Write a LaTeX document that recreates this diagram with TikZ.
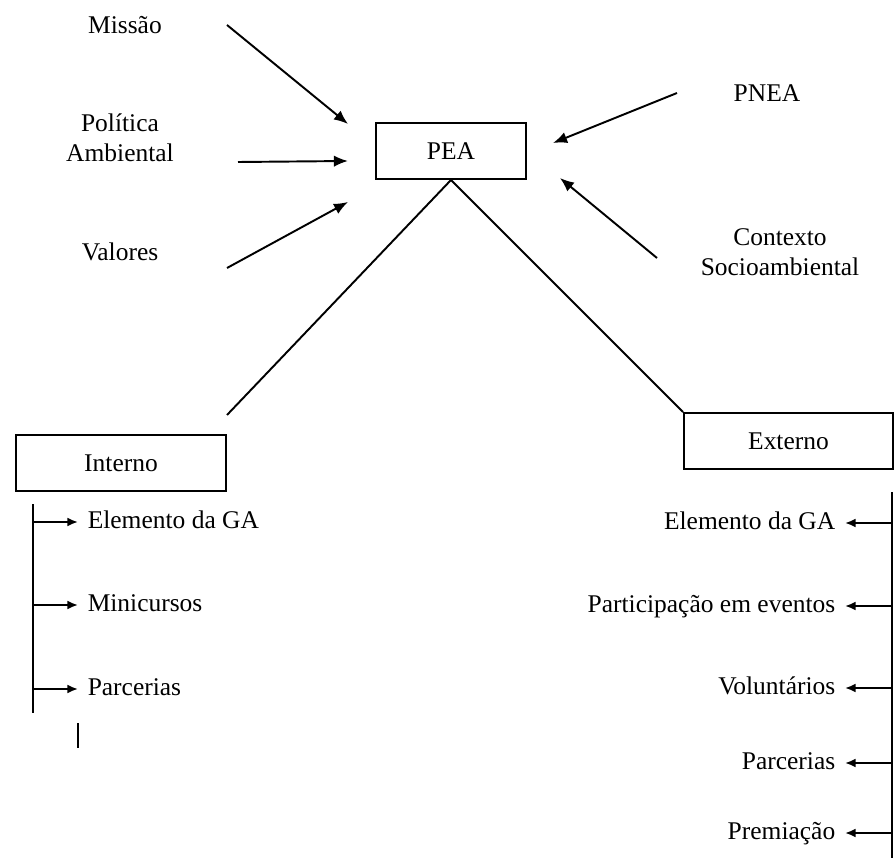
\documentclass[tikz,border=0pt]{standalone}
\usepackage{fontspec}
\setmainfont{Liberation Serif}
\usepackage{tikz}
\usetikzlibrary{arrows.meta}
\tikzset{every picture/.style={line width=1.1pt}}
\tikzset{caixa/.style={draw, rectangle, minimum height=1.12cm}}
\tikzset{rotulo/.style={align=center, inner sep=1pt, font=\fontsize{14.5}{17}\selectfont}}
\tikzset{item/.style={rotulo, inner xsep=5pt, text height=10pt, text depth=3pt}}
\tikzset{seta/.style={-{Latex[length=8pt,width=6.5pt]}}}
\tikzset{setinha/.style={-{Latex[length=6pt,width=5pt]}}}

\begin{document}
\begin{tikzpicture}[x=0.02cm, y=-0.02cm]
\useasboundingbox (0,0) rectangle (896,858);
% caixas
\node[caixa, rotulo, minimum width=3cm] (pea) at (451,151) {PEA};
\node[caixa, rotulo, minimum width=4.2cm] (interno) at (121,463) {Interno};
\node[caixa, rotulo, minimum width=4.18cm] (externo) at (788.5,441) {Externo};
% entradas
\node[rotulo] (missao) at (125,25) {Missão};
\node[rotulo] (politica) at (120,138) {Política\\Ambiental};
\node[rotulo] (valores) at (120,252) {Valores};
\node[rotulo] (pnea) at (767,93) {PNEA};
\node[rotulo] (contexto) at (780,252) {Contexto\\Socioambiental};
\foreach \n/\xa/\ya/\xb/\yb in {missao/227/25/348/124, politica/238/162/348/161,
  valores/227/268/348/202, pnea/677/93/553/143, contexto/657/258/560/178} {
\coordinate (\n-a) at (\xa,\ya);
\coordinate (\n-b) at (\xb,\yb);
\draw[seta] (\n-a) -- (\n-b);
}
% ramos
\coordinate (int-ramo) at (227,415);
\draw (pea.south) -- (int-ramo);
\draw (pea.south) -- (externo.north west);
% interno
\coordinate (int-topo) at (33,504);
\coordinate (int-base) at (33,713);
\draw (int-topo) -- (int-base);
\foreach \i/\y/\t in {1/522/Elemento da GA, 2/605/Minicursos, 3/689/Parcerias} {
\node[item, anchor=west] (int\i) at (78,\y) {\t};
\draw[setinha] (int-topo |- int\i.west) -- (int\i.west);
}
\coordinate (barra-a) at (78,723);
\coordinate (barra-b) at (78,748);
\draw[line width=1.5pt] (barra-a) -- (barra-b);
% externo
\coordinate (ext-topo) at (892,492);
\coordinate (ext-base) at (892,858);
\draw (ext-topo) -- (ext-base);
\foreach \i/\y/\t in {1/523/Elemento da GA, 2/606/Participação em eventos,
  3/688/Voluntários, 4/763/Parcerias, 5/833/Premiação} {
\node[item, anchor=east] (ext\i) at (845,\y) {\t};
\draw[setinha] (ext-topo |- ext\i.east) -- (ext\i.east);
}
\end{tikzpicture}
\end{document}
